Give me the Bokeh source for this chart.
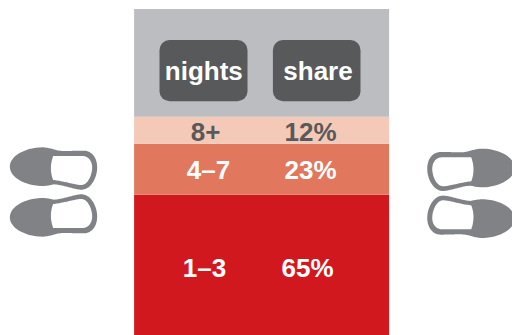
import numpy as np
from bokeh.plotting import figure
from bokeh.models import Range1d, ColumnDataSource
from bokeh.core.properties import value
from bokeh.embed import file_html
from bokeh.resources import INLINE

# --- data ---
nights = ["1–3", "4–7", "8+"]
share = [65, 23, 12]
band_heights = [64.6, 23.4, 12.4]  # drawn band heights
band_colors = ["#D2181F", "#E1775C", "#F4C9B8"]
label_colors = ["#FFFFFF", "#FFFFFF", "#58595B"]
header_labels = ["nights", "share"]

W, H = 512, 335
FONT = "Liberation Sans"

p = figure(width=W, height=H, output_backend="svg", toolbar_location=None,
           x_range=Range1d(0, 512), y_range=Range1d(0, 153.67),
           min_border=0, min_border_left=0, min_border_right=0,
           min_border_top=0, min_border_bottom=0,
           outline_line_color=None, background_fill_color="white",
           border_fill_color="white",
           styles={"position": "absolute", "left": "0px", "top": "0px"})
p.axis.visible = False
p.grid.visible = False
p.extra_y_ranges = {"px": Range1d(335, 0)}

# --- bands ---
bottoms = np.concatenate([[0], np.cumsum(band_heights)[:-1]])
tops = np.cumsum(band_heights)
src = ColumnDataSource(dict(bottom=bottoms, top=tops, color=band_colors))
p.quad(left=133.6, right=388.6, bottom="bottom", top="top", fill_color="color",
       line_color=None, source=src)

# --- header block ---
p.quad(left=133.6, right=388.6, bottom=116.2, top=8.5, fill_color="#BCBDC0", line_color=None,
       y_range_name="px")
p.quad(left=[159, 272.4], right=[247, 360], bottom=[100.8, 100.8], top=[39.5, 39.5],
       fill_color="#58595B", line_color=None, border_radius=10, y_range_name="px")
p.text(x=[203.3, 317.5], y=[70.5, 70.5], text=header_labels, text_color="white",
       text_font=value(FONT), text_font_style="bold", text_font_size="26px",
       text_align="center", text_baseline="middle", y_range_name="px")

# --- labels ---
share_labels = [f"{s}%" for s in share]
p.text(x=[204, 208, 205], y=[267.5, 169.5, 131.5], text=nights, text_color=label_colors,
       text_font=value(FONT), text_font_style="bold", text_font_size="26px",
       text_align="center", text_baseline="middle", y_range_name="px")
p.text(x=[307, 310, 310], y=[267.5, 169.5, 131.5], text=share_labels, text_color=label_colors,
       text_font=value(FONT), text_font_style="bold", text_font_size="26px",
       text_align="center", text_baseline="middle", y_range_name="px")

# --- shoe icons (pictograms, outline traced in pixels) ---
OUTER = [(28, 110), (28, 75), (80, 52), (125, 52), (150, 52), (165, 63), (190, 63),
         (210, 63), (228, 62), (245, 62), (275, 60), (290, 85), (290, 112),
         (290, 145), (270, 178), (245, 179), (225, 180), (190, 165), (160, 163),
         (148, 166), (137, 168), (125, 168), (80, 168), (28, 145), (28, 110)]
INNER = [(158, 78), (190, 78), (215, 78), (245, 78), (265, 78), (275, 95), (275, 112),
         (275, 135), (262, 165), (242, 165), (225, 165), (185, 152), (158, 150),
         (148, 125), (150, 100), (158, 78)]


def bez(ctrl):
    c = np.array(ctrl, float) / 3 + np.array([0, 130])
    pts = []
    t = np.linspace(0, 1, 24)[:, None]
    for i in range(0, len(c) - 1, 3):
        a, b, d, e = c[i], c[i + 1], c[i + 2], c[i + 3]
        pts.append((1 - t) ** 3 * a + 3 * (1 - t) ** 2 * t * b + 3 * (1 - t) * t ** 2 * d + t ** 3 * e)
    return np.vstack(pts)


def shoe(mirror_x, mirror_y, dy):
    for ctrl, col in ((OUTER, "#808285"), (INNER, "white")):
        q = bez(ctrl)
        x, y = q[:, 0], q[:, 1]
        if mirror_y:
            y = 384 - y
        if mirror_x:
            x = 523.4 - x
        p.patch(x, y + dy - 0.5, fill_color=col, line_color=None, y_range_name="px")


shoe(False, False, 0)
shoe(False, True, 0)
shoe(True, False, 1.3)
shoe(True, True, 1.3)

open("out.html", "w").write(file_html(p, INLINE))
